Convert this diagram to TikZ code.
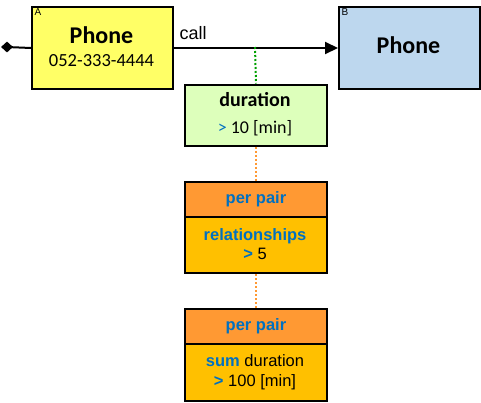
\documentclass[tikz,border=0pt]{standalone}
\usepackage{fontspec}
\setmainfont{Liberation Sans}
\newfontfamily\carlitofont{Carlito}
\usetikzlibrary{arrows.meta,shapes.geometric}
\definecolor{yelA}{HTML}{FFFF66}
\definecolor{bluB}{HTML}{BDD7EE}
\definecolor{grn}{HTML}{DDFFBB}
\definecolor{orh}{HTML}{FF9933}
\definecolor{orb}{HTML}{FFC000}
\definecolor{txb}{HTML}{0070C0}
\definecolor{dotg}{HTML}{00A000}
\definecolor{doto}{HTML}{FF9933}
\tikzset{
  box/.style={draw=black, line width=2pt, inner sep=0pt, anchor=north west},
  txt/.style={inner sep=0pt, anchor=base},
  corner/.style={inner sep=0pt, anchor=north west, font=\fontsize{10}{11}\selectfont},
  dotline/.style={line width=2pt, dash pattern=on 2pt off 2pt},
}
\begin{document}
\begin{tikzpicture}[x=1pt,y=-1pt]
\useasboundingbox (0,0) rectangle (481,402);
% Phone boxes
\node[box, fill=yelA, minimum width=141pt, minimum height=82pt] (A) at (31,6) {};
\node[box, fill=bluB, minimum width=141pt, minimum height=82pt] (B) at (338,6) {};
\node[corner] (Alab) at (34.5,8) {A};
\node[corner] (Blab) at (341.5,8) {B};
\node[txt, font=\carlitofont\bfseries\fontsize{24}{28}\selectfont] (Aph) at (101.5,43) {Phone};
\node[txt, font=\carlitofont\fontsize{18.5}{22}\selectfont] (Anum) at (101.5,66.5) {052-333-4444};
\node[txt, font=\carlitofont\bfseries\fontsize{24}{28}\selectfont] (Bph) at (408.5,53) {Phone};
% call arrow
\node[diamond, fill=black, inner sep=0pt, minimum width=12pt, minimum height=11pt] (start) at (7,47) {};
\draw[line width=2pt] (start.center) -- (A.west);
\draw[line width=2pt, -{Triangle[length=13pt,width=12pt]}] (A.east) -- (B.west);
\node[txt, anchor=base west, font=\fontsize{18}{20}\selectfont] (call) at (179.5,39) {call};
\coordinate (tap) at (255,47);
% duration
\node[box, fill=grn, minimum width=142pt, minimum height=61pt] (D) at (184,83.5) {};
\node[txt, font=\carlitofont\bfseries\fontsize{20}{24}\selectfont] (Dt) at (255,106.5) {duration};
\node[txt, font=\carlitofont\fontsize{18}{22}\selectfont] (Dv) at (255,133) {\textcolor{txb}{>} 10 [min]};
% first per pair
\node[box, fill=orh, minimum width=142pt, minimum height=35pt] (P1) at (184,181) {};
\node[box, fill=orb, minimum width=142pt, minimum height=56pt] (R1) at (184,216) {};
\node[font=\bfseries\fontsize{16.5}{20}\selectfont, text=txb, inner sep=0pt] (P1t) at (P1.center) {per pair};
\node[txt, font=\bfseries\fontsize{16.5}{20}\selectfont, text=txb] (R1a) at (255,240) {relationships};
\node[txt, font=\fontsize{16.5}{20}\selectfont] (R1b) at (255,259) {\textcolor{txb}{\bfseries >} 5};
% second per pair
\node[box, fill=orh, minimum width=142pt, minimum height=36pt] (P2) at (184,307.5) {};
\node[box, fill=orb, minimum width=142pt, minimum height=57pt] (R2) at (184,343) {};
\node[font=\bfseries\fontsize{16.5}{20}\selectfont, text=txb, inner sep=0pt] (P2t) at (P2.center) {per pair};
\node[txt, font=\fontsize{16.5}{20}\selectfont] (R2a) at (255,366) {\textcolor{txb}{\bfseries sum} duration};
\node[txt, font=\fontsize{16.5}{20}\selectfont] (R2b) at (255,386.5) {\textcolor{txb}{\bfseries >} 100 [min]};
% dotted connectors
\draw[dotline, draw=dotg] (tap) -- (D.north);
\draw[dotline, draw=doto] (D.south) -- (P1.north);
\draw[dotline, draw=doto] (R1.south) -- (P2.north);
\end{tikzpicture}
\end{document}
